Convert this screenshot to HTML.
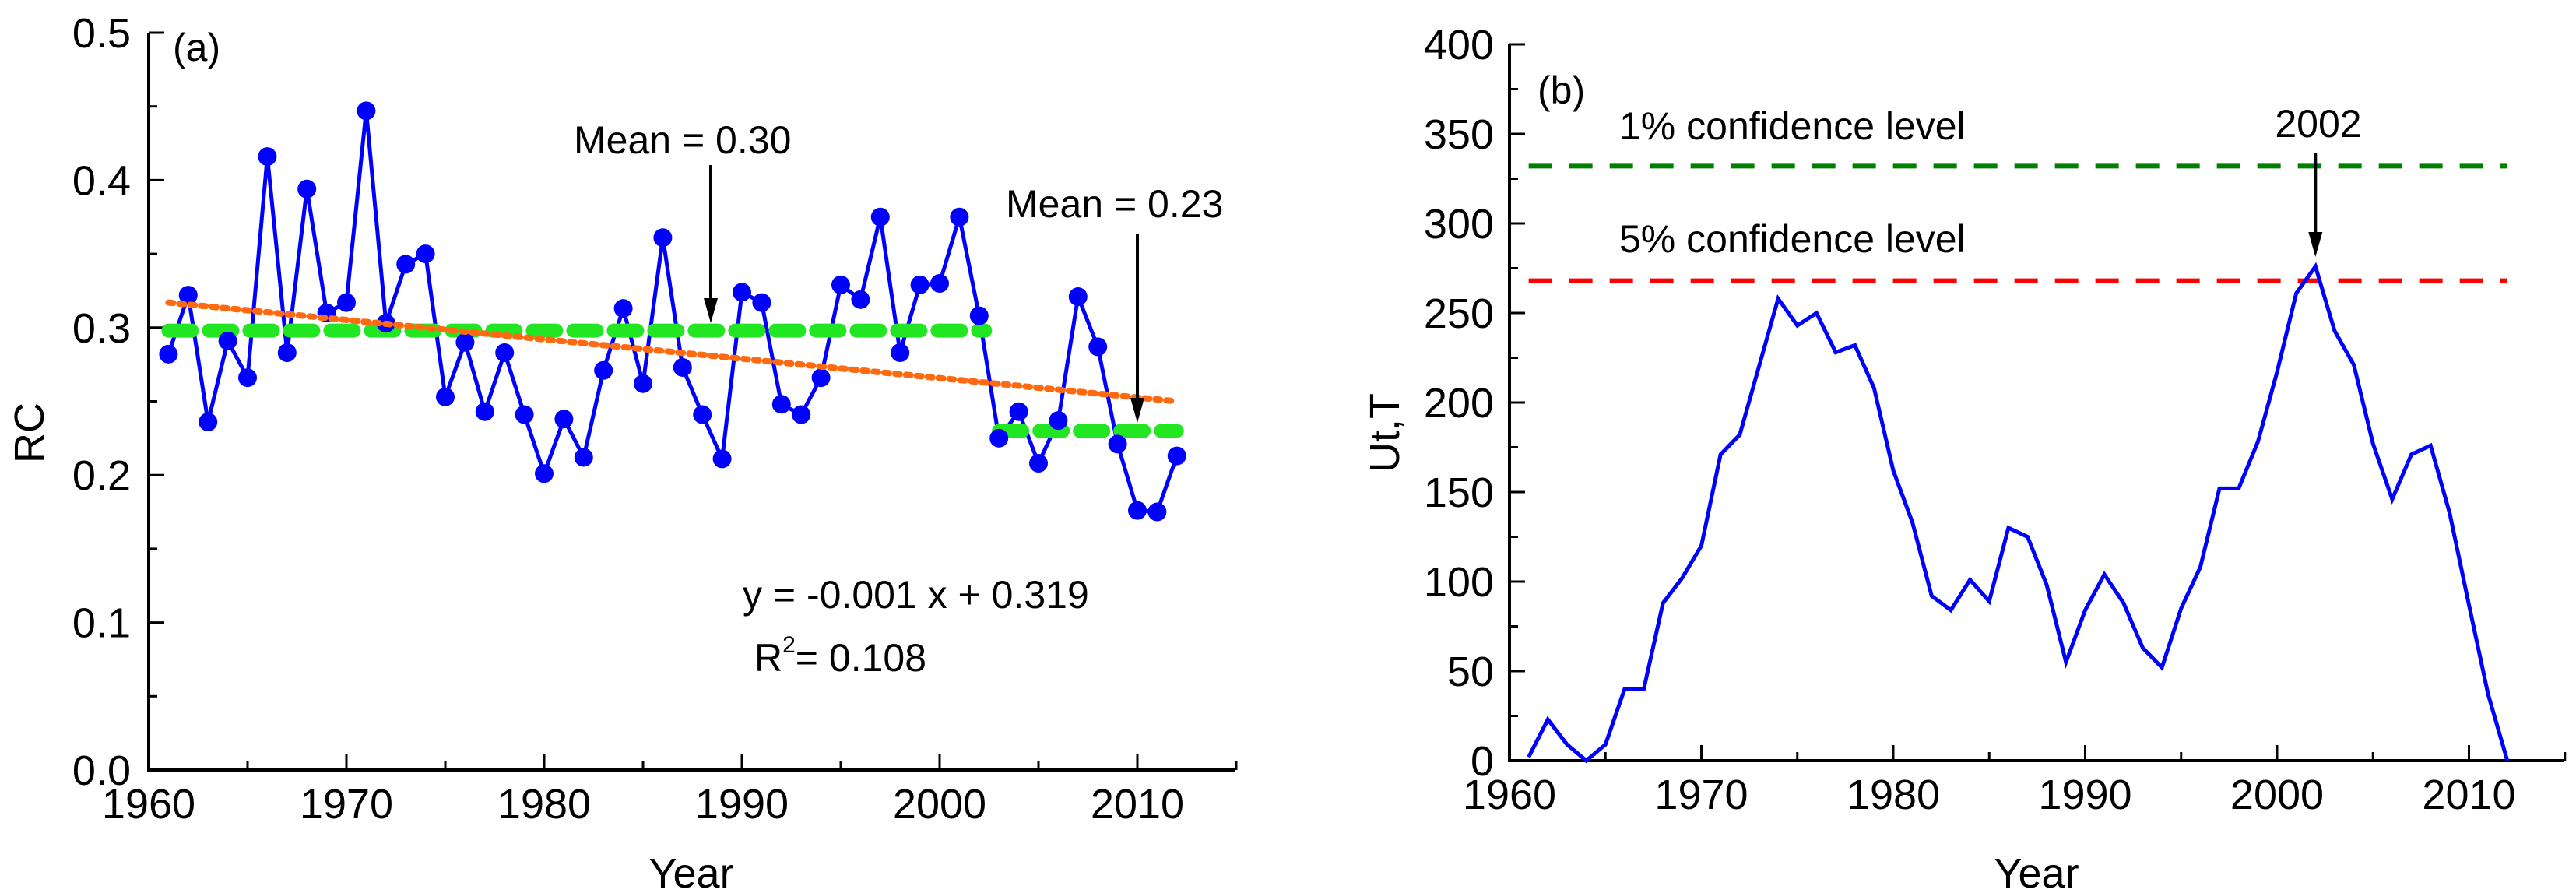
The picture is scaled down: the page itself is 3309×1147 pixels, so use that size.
<!DOCTYPE html>
<html><head><meta charset="utf-8"><style>
html,body{margin:0;padding:0;background:#fff;}
svg{display:block;font-family:"Liberation Sans",Arial,sans-serif;}
</style></head><body>
<svg id="c" width="3309" height="1147" viewBox="0 0 3309 1147" xmlns="http://www.w3.org/2000/svg"></svg>
<script>
const years = [];
for (let y = 1961; y <= 2012; y++) years.push(y);
const rcValues = [0.282,0.322,0.236,0.291,0.266,0.416,0.283,0.394,0.310,0.317,0.447,0.303,0.343,0.350,0.253,0.290,0.243,0.283,0.241,0.201,0.238,0.212,0.271,0.313,0.262,0.361,0.273,0.241,0.211,0.324,0.317,0.248,0.241,0.266,0.329,0.319,0.375,0.283,0.329,0.330,0.375,0.308,0.225,0.243,0.208,0.237,0.321,0.287,0.221,0.176,0.175,0.213];
const utValues = [2,23,9,0,9,40,40,88,102,120,171,182,220,258,243,250,228,232,208,162,133,92,84,101,89,130,125,98,55,84,104,88,63,52,85,108,152,152,178,217,261,276,240,221,177,146,171,176,138,87,37,0];
const trendStart = [1961, 0.317];
const trendEnd = [2012, 0.250];
const mean1 = [1961, 2002.3, 0.298];
const mean2 = [2003, 2012, 0.230];
const conf1 = 332, conf5 = 268;
const xTicks = [1960,1970,1980,1990,2000,2010];
const aYTicks = ["0.0","0.1","0.2","0.3","0.4","0.5"];
const bYTicks = [0,50,100,150,200,250,300,350,400];

const svg = document.getElementById('c');
const NS = 'http://www.w3.org/2000/svg';
function mk(tag, attrs, parent, text) {
  const e = document.createElementNS(NS, tag);
  for (const k in attrs) e.setAttribute(k, attrs[k]);
  if (text !== undefined) e.textContent = text;
  (parent || svg).appendChild(e);
  return e;
}
const ax = v => 191 + (v - 1960) * 25.4;
const ay = v => 989 - v * 1894;
const bx = v => 1939 + (v - 1960) * 24.65;
const by = v => 977 - v * 2.3;

function arrowHead(x, y) { return `M${x-9},${y-32} L${x},${y} L${x+9},${y-32} Z`; }

// ---------- Panel A ----------
const gA = mk('g', {});


const axA = mk('path', {d:`M191,42 L191,989 L1587,989`, stroke:'#000', 'stroke-width':4, fill:'none'}, gA);


for (let v = 1960; v <= 2015; v += 5) {
  const major = (v % 10 === 0);
  const t = mk('line', {x1:ax(v), x2:ax(v), y1:989, y2:989 - (major ? 20 : 11), stroke:'#000', 'stroke-width':3}, gA);
  
  
}
xTicks.forEach(v => {
  const t = mk('text', {x:ax(v), y:1051, 'font-size':54, 'text-anchor':'middle'}, gA, String(v));
  
  
});
for (let i = 0; i <= 10; i++) {
  const v = i * 0.05;
  const t = mk('line', {x1:191, x2:191 + (i % 2 === 0 ? 20 : 11), y1:ay(v), y2:ay(v), stroke:'#000', 'stroke-width':3}, gA);
  
  
}
aYTicks.forEach(s => {
  const t = mk('text', {x:168, y:ay(parseFloat(s)) + 19, 'font-size':54, 'text-anchor':'end'}, gA, s);
  
  
});
let t = mk('text', {x:888, y:1140, 'font-size':54, 'text-anchor':'middle'}, gA, 'Year');


t = mk('text', {x:0, y:0, 'font-size':54, 'text-anchor':'middle', transform:'translate(56,556) rotate(-90)'}, gA, 'RC');


t = mk('text', {x:222, y:78, 'font-size':50}, gA, '(a)');


const rcPts = years.map((y, i) => `${ax(y)},${ay(rcValues[i])}`).join(' ');
const rcLine = mk('polyline', {points:rcPts, fill:'none', stroke:'#0000ff', 'stroke-width':5}, gA);


const m1 = mk('line', {x1:ax(mean1[0]), x2:ax(mean1[1]), y1:ay(mean1[2]), y2:ay(mean1[2]), stroke:'#22e622', 'stroke-width':18, 'stroke-dasharray':'30 22', 'stroke-linecap':'round'}, gA);


const m2 = mk('line', {x1:ax(mean2[0]), x2:ax(mean2[1]), y1:ay(mean2[2]), y2:ay(mean2[2]), stroke:'#22e622', 'stroke-width':18, 'stroke-dasharray':'30 22', 'stroke-linecap':'round'}, gA);


years.forEach((y, i) => {
  const c = mk('circle', {cx:ax(y), cy:ay(rcValues[i]), r:12, fill:'#0000ff'}, gA);
  
  
});
const tr = mk('line', {x1:ax(trendStart[0]), y1:ay(trendStart[1]), x2:ax(trendEnd[0]), y2:ay(trendEnd[1]), stroke:'#ff6a10', 'stroke-width':8, 'stroke-dasharray':'6 8', 'stroke-linecap':'round'}, gA);


t = mk('text', {x:737, y:197, 'font-size':50}, gA, 'Mean = 0.30');


let ar = mk('line', {x1:913, x2:913, y1:212, y2:390, stroke:'#000', 'stroke-width':4}, gA);


ar = mk('path', {d:arrowHead(913, 415), fill:'#000'}, gA);


t = mk('text', {x:1292, y:279, 'font-size':50}, gA, 'Mean = 0.23');


ar = mk('line', {x1:1461, x2:1461, y1:300, y2:518, stroke:'#000', 'stroke-width':4}, gA);


ar = mk('path', {d:arrowHead(1461, 543), fill:'#000'}, gA);


t = mk('text', {x:954, y:781, 'font-size':50}, gA, 'y = -0.001 x + 0.319');


t = mk('text', {x:969, y:862, 'font-size':50}, gA);


t.innerHTML = 'R<tspan font-size="30" dy="-24">2</tspan><tspan dy="24">= 0.108</tspan>';

// ---------- Panel B ----------
const gB = mk('g', {});


const axB = mk('path', {d:`M1939,57 L1939,977 L3294,977`, stroke:'#000', 'stroke-width':4, fill:'none'}, gB);


for (let v = 1960; v <= 2015; v += 5) {
  const major = (v % 10 === 0);
  const tk = mk('line', {x1:bx(v), x2:bx(v), y1:977, y2:977 - (major ? 20 : 11), stroke:'#000', 'stroke-width':3}, gB);
  
  
}
xTicks.forEach(v => {
  const tx = mk('text', {x:bx(v), y:1039, 'font-size':54, 'text-anchor':'middle'}, gB, String(v));
  
  
});
for (let v = 0; v <= 400; v += 25) {
  const tk = mk('line', {x1:1939, x2:1939 + (v % 50 === 0 ? 20 : 11), y1:by(v), y2:by(v), stroke:'#000', 'stroke-width':3}, gB);
  
  
}
bYTicks.forEach(v => {
  const tx = mk('text', {x:1919, y:by(v) + 19, 'font-size':54, 'text-anchor':'end'}, gB, String(v));
  
  
});
t = mk('text', {x:2616, y:1140, 'font-size':54, 'text-anchor':'middle'}, gB, 'Year');


t = mk('text', {x:0, y:0, 'font-size':54, 'text-anchor':'middle', transform:'translate(1797,556) rotate(-90)'}, gB, 'Ut,T');


t = mk('text', {x:1975, y:133, 'font-size':50}, gB, '(b)');


let cl = mk('line', {x1:bx(1961), x2:bx(2012), y1:by(conf1), y2:by(conf1), stroke:'#008000', 'stroke-width':6, 'stroke-dasharray':'30 22'}, gB);


cl = mk('line', {x1:bx(1961), x2:bx(2012), y1:by(conf5), y2:by(conf5), stroke:'#ff0000', 'stroke-width':6, 'stroke-dasharray':'30 22'}, gB);


t = mk('text', {x:2080, y:179, 'font-size':50}, gB, '1% confidence level');


t = mk('text', {x:2080, y:324, 'font-size':50}, gB, '5% confidence level');


const utPts = years.map((y, i) => `${bx(y)},${by(utValues[i])}`).join(' ');
const utLine = mk('polyline', {points:utPts, fill:'none', stroke:'#0000ff', 'stroke-width':5, 'stroke-linejoin':'miter'}, gB);


t = mk('text', {x:2978, y:176, 'font-size':50, 'text-anchor':'middle'}, gB, '2002');


ar = mk('line', {x1:bx(2002), x2:bx(2002), y1:197, y2:305, stroke:'#000', 'stroke-width':4}, gB);


ar = mk('path', {d:arrowHead(bx(2002), 330), fill:'#000'}, gB);


</script>
</body></html>
